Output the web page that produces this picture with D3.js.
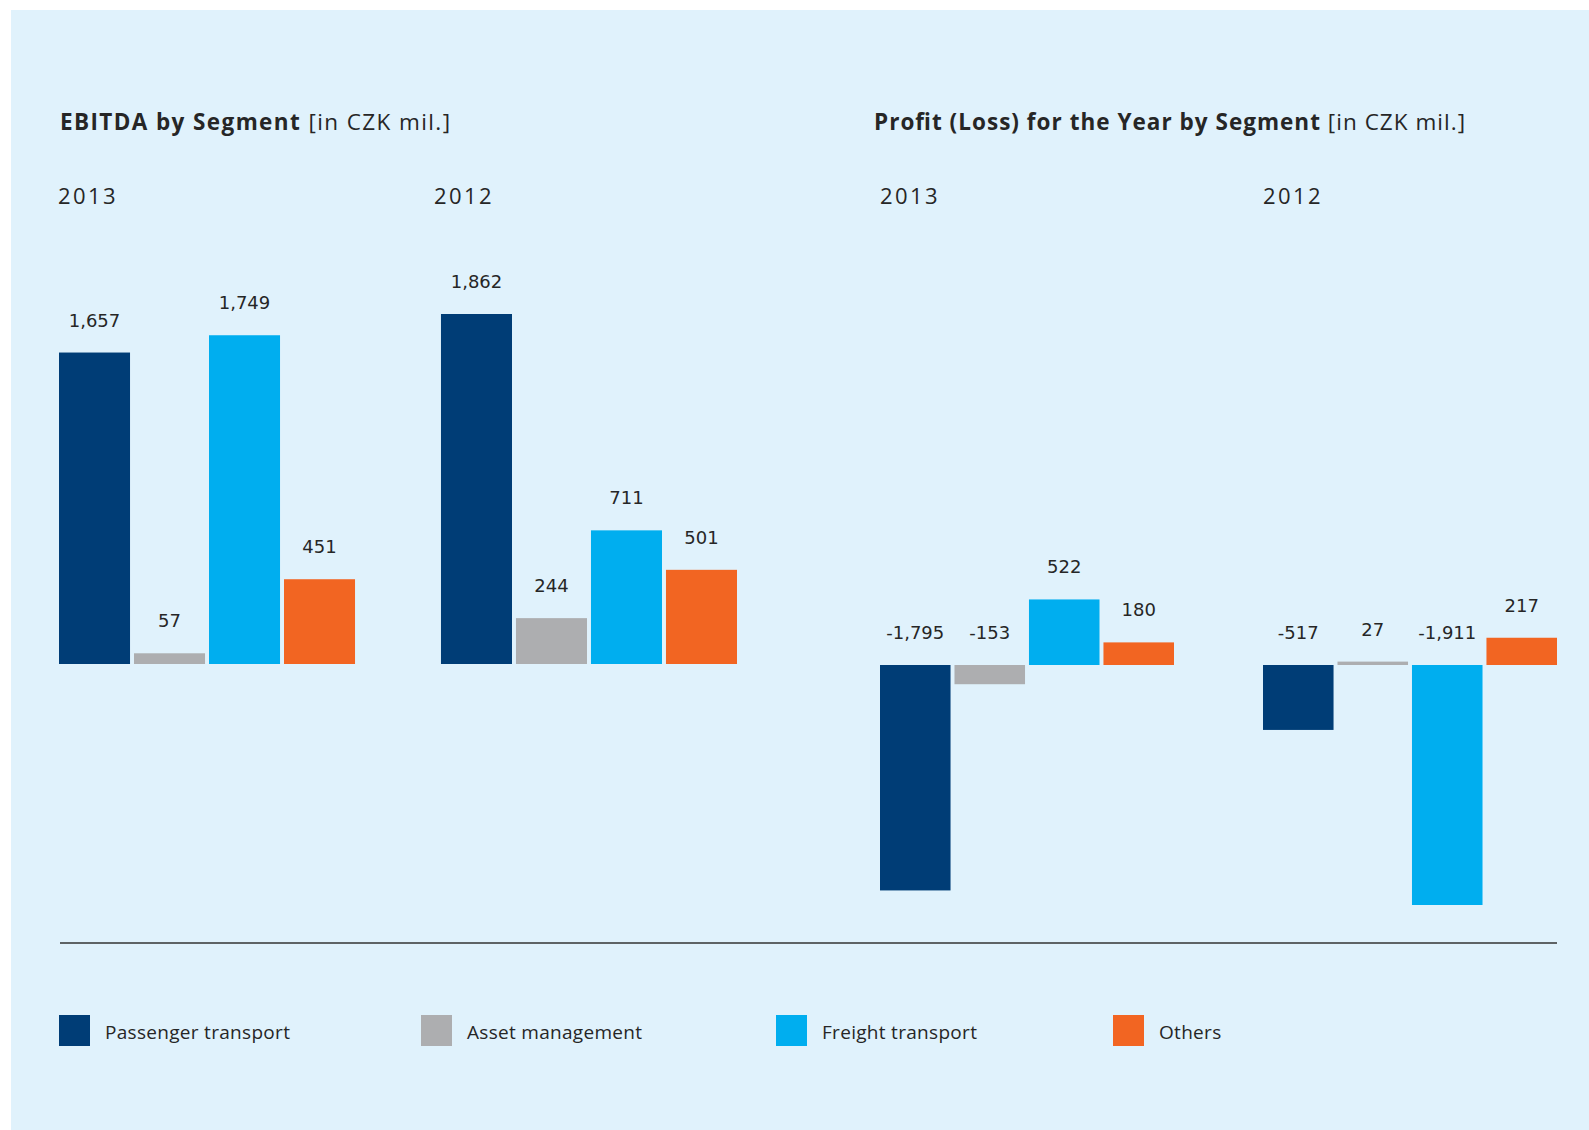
<!DOCTYPE html>
<html>
<head>
<meta charset="utf-8">
<script src="https://cdn.jsdelivr.net/npm/d3@7"></script>
<style>
  html, body { margin: 0; padding: 0; background: #ffffff; }
  svg { display: block; }
</style>
</head>
<body>
<svg id="chart" width="1589" height="1130"></svg>
<script>
// ---- data ----
const segments = ["Passenger transport", "Asset management", "Freight transport", "Others"];
const years = ["2013", "2012"];
const ebitda2013 = [1657, 57, 1749, 451];
const ebitda2012 = [1862, 244, 711, 501];
const profit2013 = [-1795, -153, 522, 180];
const profit2012 = [-517, 27, -1911, 217];
const colors = ["#003d76", "#adaeb0", "#00aeef", "#f26522"];
const ebitdaTitle = ["EBITDA by Segment", " [in CZK mil.]"];
const profitTitle = ["Profit (Loss) for the Year by Segment", " [in CZK mil.]"];

const locale = d3.formatLocale({ decimal: ".", thousands: ",", grouping: [3], currency: ["", ""], minus: "-" });
const fmt = locale.format(",");
const svg = d3.select("#chart");
const textColor = "#262626";
const titleFont = "'Open Sans', 'Noto Sans', sans-serif";
const labelFont = "'DejaVu Sans', sans-serif";

// background panel
svg.append("rect").attr("x", 11).attr("y", 10).attr("width", 1578).attr("height", 1120).attr("fill", "#e0f2fc");

function drawChart(cfg) {
  const g = svg.append("g");
  // title
  const t = g.append("text").attr("x", cfg.titleX).attr("y", 130)
    .attr("font-family", titleFont).attr("font-size", 22.5).attr("fill", textColor)
    .attr("textLength", cfg.titleLen).attr("lengthAdjust", "spacing");
  t.append("tspan").attr("font-weight", 700).text(cfg.title[0]);
  t.append("tspan").attr("font-weight", 400).text(cfg.title[1]);

  const xYear = d3.scaleBand().domain(years).range(cfg.xRange).paddingInner(cfg.groupPad);
  const xSeg = d3.scaleBand().domain(segments).range([0, xYear.bandwidth()]).paddingInner(0.053);
  const y = d3.scaleLinear().domain(cfg.yDomain).range(cfg.yRange);

  cfg.series.forEach((vals, i) => {
    const yr = years[i];
    const gg = g.append("g").attr("transform", `translate(${xYear(yr)},0)`);
    gg.append("text").attr("x", cfg.yearDx[i]).attr("y", 204)
      .attr("font-family", titleFont).attr("font-size", 22).attr("letter-spacing", 2.4)
      .attr("fill", textColor)
      .text(yr);
    const data = segments.map((s, k) => ({ s, v: vals[k], c: colors[k] }));
    gg.selectAll("rect.bar").data(data).join("rect")
      .attr("class", "bar")
      .attr("x", d => xSeg(d.s))
      .attr("width", xSeg.bandwidth())
      .attr("y", d => Math.min(y(d.v), y(0)))
      .attr("height", d => Math.abs(y(d.v) - y(0)))
      .attr("fill", d => d.c);
    gg.selectAll("text.val").data(data).join("text")
      .attr("class", "val")
      .attr("x", d => xSeg(d.s) + xSeg.bandwidth() / 2)
      .attr("y", d => Math.min(y(d.v), y(0)) - 26)
      .attr("text-anchor", "middle")
      .attr("font-family", labelFont).attr("font-size", 18).attr("fill", textColor)
      .text(d => fmt(d.v));
  });
}

drawChart({
  title: ebitdaTitle, titleX: 60, titleLen: 390,
  xRange: [59, 737], groupPad: 0.225,
  yDomain: [0, 1862], yRange: [664, 314],
  series: [ebitda2013, ebitda2012], yearDx: [-1, -7]
});
drawChart({
  title: profitTitle, titleX: 874, titleLen: 591,
  xRange: [880, 1557], groupPad: 0.2324,
  yDomain: [-1911, 0], yRange: [905, 665],
  series: [profit2013, profit2012], yearDx: [0, 0]
});

// divider
svg.append("line").attr("x1", 60).attr("x2", 1557).attr("y1", 943).attr("y2", 943)
  .attr("stroke", "#333333").attr("stroke-width", 1.5);

// legend
const legendX = d3.scaleOrdinal().domain(segments).range([59, 421, 776, 1113]);
const lg = svg.append("g").selectAll("g").data(segments).join("g")
  .attr("transform", d => `translate(${legendX(d)},1015)`);
lg.append("rect").attr("width", 31).attr("height", 31).attr("fill", (d, i) => colors[i]);
lg.append("text").attr("x", 46).attr("y", 24)
  .attr("font-family", titleFont).attr("font-size", 19).attr("letter-spacing", 0.3)
  .attr("fill", textColor)
  .text(d => d);
</script>
</body>
</html>
